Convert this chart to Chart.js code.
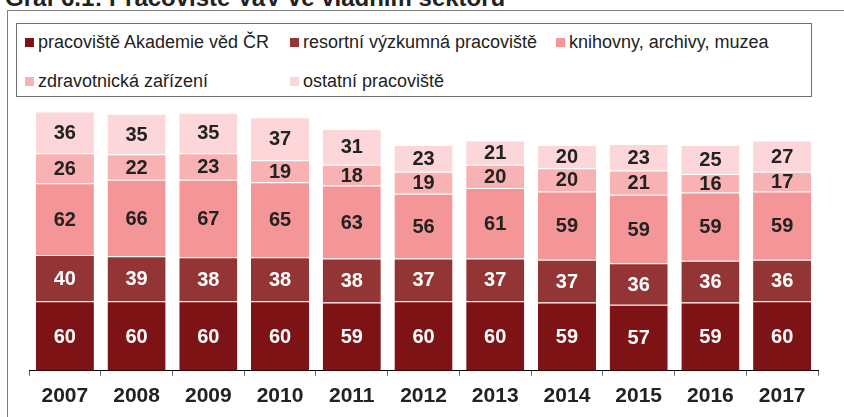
<!DOCTYPE html>
<html>
<head>
<meta charset="utf-8">
<script src="https://cdn.jsdelivr.net/npm/chart.js@4"></script>
<style>
  body { margin: 0; background: #fff; font-family: "Liberation Sans", Arial, sans-serif; }
  #wrap { position: relative; width: 844px; height: 417px; overflow: hidden; }
  #title { position: absolute; left: 5px; top: -14px; font-size: 24px; font-weight: bold; color: #222; line-height: 24px; white-space: nowrap; }
  #frame { position: absolute; left: 7px; top: 10px; width: 900px; height: 500px; border: 1px solid #808080; }
  #legend { position: absolute; left: 16px; top: 23px; width: 796px; height: 74px; border: 1px solid #6f6f6f; box-sizing: border-box; }
  .item { position: absolute; font-size: 18px; color: #222; white-space: nowrap; line-height: 20px; }
  .item span { display: inline-block; width: 9px; height: 9px; margin-right: 4px; vertical-align: 1px; }
  canvas { position: absolute; left: 0; top: 0; }
</style>
</head>
<body>
<div id="wrap">
  <div id="title">Graf 6.1: Pracoviště VaV ve vládním sektoru</div>
  <div id="frame"></div>
  <div id="legend"></div>
  <canvas id="barChart" width="844" height="417"></canvas>
</div>
<script>
const years = ['2007', '2008', '2009', '2010', '2011', '2012', '2013', '2014', '2015', '2016', '2017'];
const seriesNames = ['pracoviště Akademie věd ČR', 'resortní výzkumná pracoviště', 'knihovny, archivy, muzea', 'zdravotnická zařízení', 'ostatní pracoviště'];
const akademie = [60, 60, 60, 60, 59, 60, 60, 59, 57, 59, 60];
const resortni = [40, 39, 38, 38, 38, 37, 37, 37, 36, 36, 36];
const knihovny = [62, 66, 67, 65, 63, 56, 61, 59, 59, 59, 59];
const zdravotni = [26, 22, 23, 19, 18, 19, 20, 20, 21, 16, 17];
const ostatni = [36, 35, 35, 37, 31, 23, 21, 20, 23, 25, 27];
const colors = ['#7e1316', '#943535', '#f49597', '#f8b2b3', '#fcd6d9'];
const labelColors = ['#ffffff', '#ffffff', '#222222', '#222222', '#222222'];

// legend (html)
const legendPos = [[8, 8], [273, 8], [539, 8], [8, 47], [273, 47]];
const legendEl = document.getElementById('legend');
seriesNames.forEach(function (name, i) {
    const d = document.createElement('div');
    d.className = 'item';
    d.style.left = legendPos[i][0] + 'px';
    d.style.top = legendPos[i][1] + 'px';
    d.innerHTML = '<span style="background:' + colors[i] + '"></span>' + name;
    legendEl.appendChild(d);
});

// values inside the segments
const valueLabels = {
    id: 'valueLabels',
    afterDatasetsDraw(chart) {
        const ctx = chart.ctx;
        ctx.save();
        ctx.font = 'bold 20px "Liberation Sans", Arial, sans-serif';
        ctx.textAlign = 'center';
        ctx.textBaseline = 'middle';
        chart.data.datasets.forEach(function (ds, i) {
            chart.getDatasetMeta(i).data.forEach(function (bar, j) {
                const mid = (bar.y + bar.base) / 2;
                ctx.fillStyle = labelColors[i];
                ctx.fillText(ds.data[j], bar.x, mid + 1);
            });
        });
        ctx.restore();
    }
};

const allSeries = [akademie, resortni, knihovny, zdravotni, ostatni];
const barEl = document.getElementById('barChart');
new Chart(barEl, {
    type: 'bar',
    data: {
        labels: years,
        datasets: allSeries.map(function (vals, i) {
            return {
                label: seriesNames[i],
                data: vals,
                backgroundColor: colors[i],
                borderColor: 'rgba(255,255,255,0.3)',
                borderWidth: { top: 1, bottom: 0, left: 0, right: 0 },
                borderSkipped: false,
                barPercentage: 0.81,
                categoryPercentage: 1
            };
        })
    },
    options: {
        responsive: false,
        animation: false,
        layout: { padding: { left: 29, right: 26, top: 93, bottom: 0 } },
        plugins: {
            legend: { display: false },
            tooltip: { enabled: false }
        },
        scales: {
            x: {
                stacked: true,
                grid: { offset: true, drawOnChartArea: false, drawTicks: true, tickLength: 5, color: '#666' },
                border: { color: '#000', width: 1 },
                ticks: {
                    color: '#222',
                    padding: 8,
                    font: { family: '"Liberation Sans", Arial, sans-serif', size: 21, weight: 'bold' }
                }
            },
            y: {
                stacked: true,
                display: false,
                min: 0,
                max: 240
            }
        }
    },
    plugins: [valueLabels]
});
</script>
</body>
</html>
